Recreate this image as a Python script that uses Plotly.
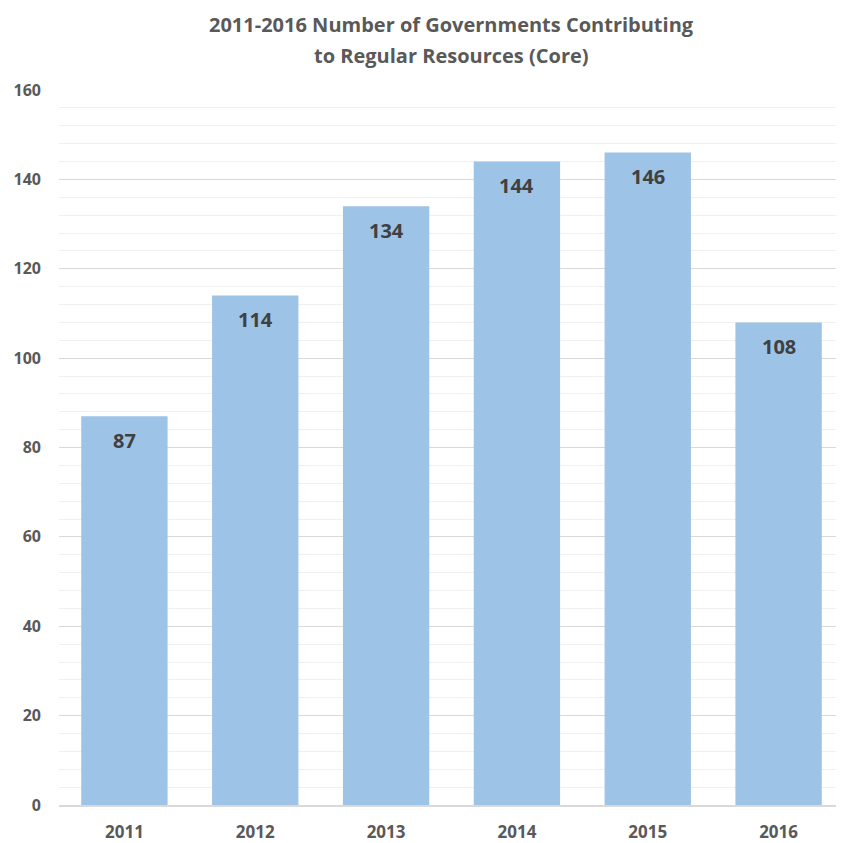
import plotly.graph_objects as go

years = ["2011", "2012", "2013", "2014", "2015", "2016"]
governments = [87, 114, 134, 144, 146, 108]
y_ticks = [0, 20, 40, 60, 80, 100, 120, 140, 160]

title_lines = ["2011-2016 Number of Governments Contributing",
               "to Regular Resources (Core)"]

FONT = "Open Sans, Lato, sans-serif"

fig = go.Figure()
fig.add_trace(go.Bar(
    x=years,
    y=governments,
    marker=dict(color="#9DC3E6", line=dict(width=0)),
    hoverinfo="x+y",
))

# value labels placed just below each bar top (category axis -> use category index)
for idx, v in enumerate(governments):
    fig.add_annotation(
        x=idx, y=v, text=str(v), showarrow=False,
        yanchor="middle", yshift=-24,
        font=dict(family=FONT, size=20, color="#404040", weight="bold"),
    )

# two-line chart title
for line, ypos in zip(title_lines, [1.0923, 1.0476]):
    fig.add_annotation(
        xref="paper", yref="paper", x=0.5, y=ypos,
        xanchor="center", yanchor="middle",
        text=line, showarrow=False,
        font=dict(family=FONT, size=20, color="#595959", weight="bold"),
    )

fig.update_layout(
    width=836,
    height=835,
    paper_bgcolor="white",
    plot_bgcolor="white",
    margin=dict(l=51, r=0, t=82, b=38),
    bargap=0.34,
    showlegend=False,
    xaxis=dict(
        type="category",
        showgrid=False,
        showline=True,
        linecolor="#D9D9D9",
        linewidth=1.5,
        ticks="",
        tickfont=dict(family=FONT, size=17, color="#595959", weight="bold"),
        ticklabelstandoff=11,
    ),
    yaxis=dict(
        range=[0, 160],
        tickvals=y_ticks,
        showgrid=True,
        gridcolor="#D9D9D9",
        gridwidth=1.3,
        zeroline=False,
        showline=False,
        ticks="",
        tickfont=dict(family=FONT, size=16, color="#595959", weight="bold"),
        ticklabelstandoff=17,
        minor=dict(dtick=4, showgrid=True, gridcolor="#F0F0F0", gridwidth=1),
    ),
)

fig.write_html("out.html")
